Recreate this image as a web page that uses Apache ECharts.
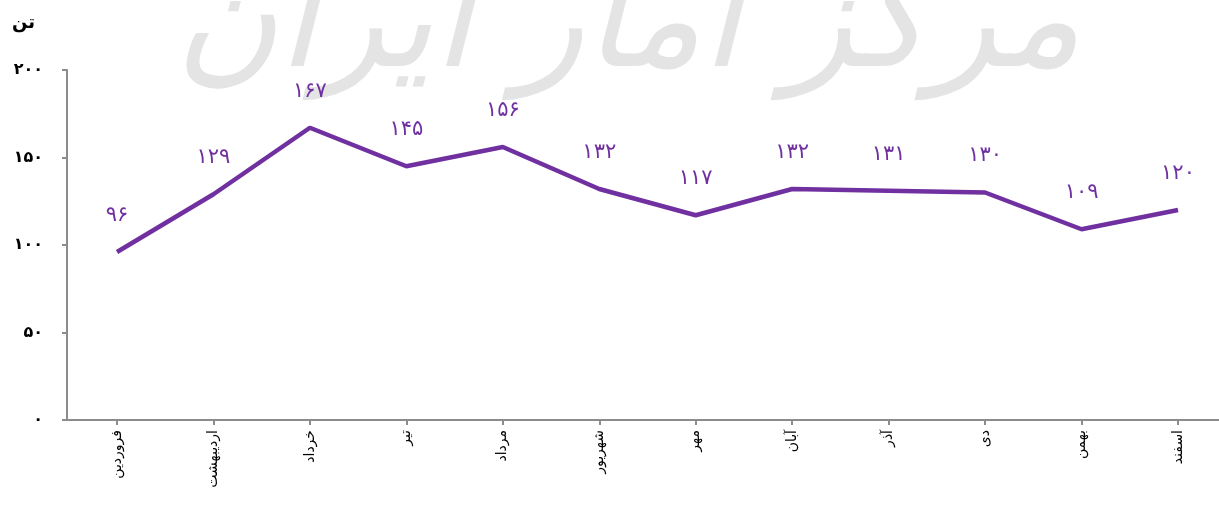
<!DOCTYPE html>
<html>
<head>
<meta charset="utf-8">
<script src="https://cdn.jsdelivr.net/npm/echarts@6/dist/echarts.min.js"></script>
<style>
  html, body { margin: 0; padding: 0; background: #fff; }
  #chart { width: 1219px; height: 506px; }
</style>
</head>
<body>
<div id="chart"></div>
<script>
// data
const months = ['فروردین', 'اردیبهشت', 'خرداد', 'تیر', 'مرداد', 'شهریور', 'مهر', 'آبان', 'آذر', 'دی', 'بهمن', 'اسفند'];
const tons = [96, 129, 167, 145, 156, 132, 117, 132, 131, 130, 109, 120];
const unitName = 'تن';

// latin -> persian digits
function fa(n) {
    return String(n).replace(/[0-9]/g, d => '۰۱۲۳۴۵۶۷۸۹'[d]);
}

const axisGray = '#8c8c8c';

const chart = echarts.init(document.getElementById('chart'));
chart.setOption({
    animation: false,
    textStyle: { fontFamily: 'DejaVu Sans' },
    // faint watermark behind the plot
    graphic: [{
        type: 'text',
        left: 175,
        top: -40,
        z: -10,
        silent: true,
        style: {
            text: 'مرکز آمار ایران',
            font: 'italic 140px DejaVu Sans',
            fill: '#e4e4e4'
        }
    }],
    // grid 0 holds the data (points from first to last tick), grid 1 only draws the long x axis line
    grid: [
        { left: 117, right: 41, top: 70, bottom: 86 },
        { left: 67, right: 0, top: 70, bottom: 86 }
    ],
    xAxis: [{
        type: 'category',
        gridIndex: 0,
        data: months,
        boundaryGap: false,
        axisLine: { show: false },
        axisTick: { length: 5, lineStyle: { color: axisGray, width: 2 } },
        axisLabel: { rotate: 90, color: '#000', fontSize: 14, margin: 10 }
    }, {
        type: 'value',
        gridIndex: 1,
        axisLine: { show: true, lineStyle: { color: axisGray, width: 2 } },
        axisTick: { show: false },
        axisLabel: { show: false },
        splitLine: { show: false }
    }],
    yAxis: [{
        type: 'value',
        gridIndex: 0,
        offset: 50,
        min: 0,
        max: 200,
        interval: 50,
        name: unitName,
        nameLocation: 'end',
        nameGap: 38,
        nameTextStyle: { color: '#000', fontSize: 18, fontWeight: 'bold', align: 'right', padding: [0, 32, 0, 0] },
        axisLine: { show: true, lineStyle: { color: axisGray, width: 2 } },
        axisTick: { show: true, length: 5, lineStyle: { color: axisGray, width: 2 } },
        axisLabel: { color: '#000', fontSize: 16, fontWeight: 'bold', margin: 24, formatter: v => fa(v) },
        splitLine: { show: false }
    }, {
        type: 'value',
        gridIndex: 1,
        show: false
    }],
    series: [{
        type: 'line',
        xAxisIndex: 0,
        yAxisIndex: 0,
        data: tons,
        symbol: 'circle',
        symbolSize: 0,
        showSymbol: true,
        lineStyle: { color: '#7030a0', width: 4.5 },
        itemStyle: { color: 'rgba(0,0,0,0)' },
        label: {
            show: true,
            position: 'top',
            distance: 26,
            color: '#7030a0',
            fontSize: 21,
            formatter: p => fa(p.value)
        }
    }]
});
</script>
</body>
</html>
